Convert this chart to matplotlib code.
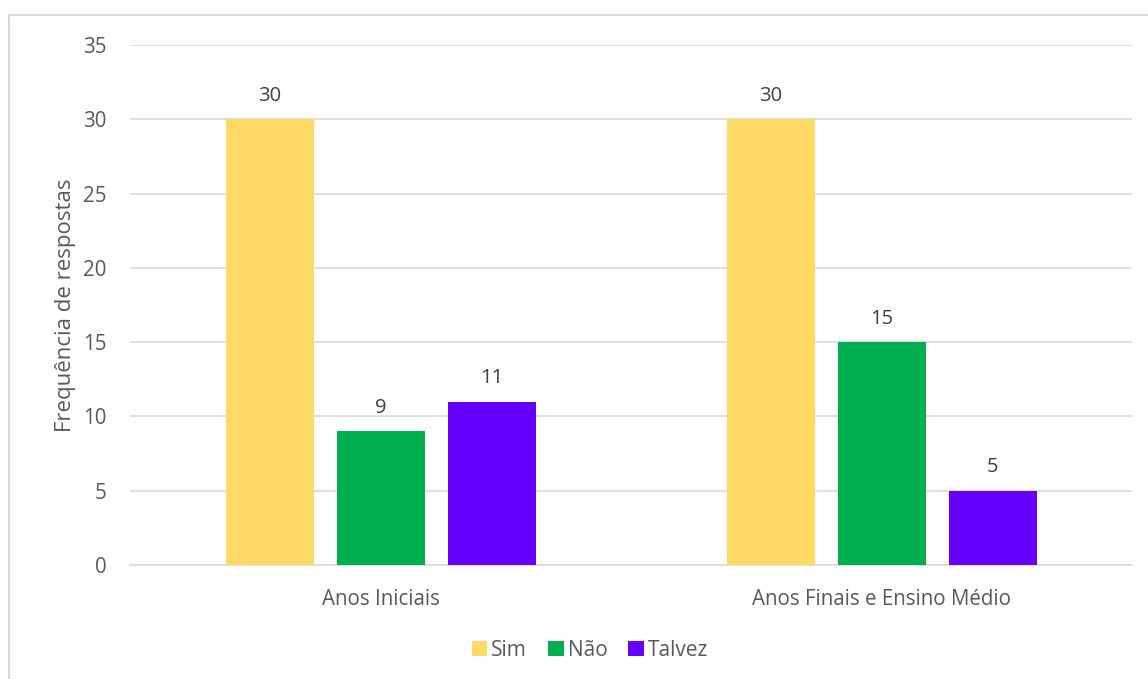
import matplotlib
matplotlib.use("Agg")
import matplotlib.pyplot as plt
import numpy as np
from matplotlib.patches import Rectangle

# Survey answers per school stage
categories = ["Anos Iniciais", "Anos Finais e Ensino Médio"]
series_names = ["Sim", "Não", "Talvez"]
sim = [30, 30]
nao = [9, 15]
talvez = [11, 5]
y_ticks = [0, 5, 10, 15, 20, 25, 30, 35]

colors = ["#FFD966", "#00B050", "#6600FF"]
text_color = "#595959"
grid_color = "#D9D9D9"

plt.rcParams["font.family"] = ["Open Sans", "DejaVu Sans"]

fig = plt.figure(figsize=(11.48, 6.79), dpi=100)
ax = fig.add_axes([130 / 1148, 1 - 565 / 679, (1132 - 130) / 1148, (565 - 45) / 679])

x = np.arange(len(categories))
width = 88 / 501
step = 111 / 501
for i, (name, values) in enumerate(zip(series_names, [sim, nao, talvez])):
    pos = x + (i - 1) * step
    bars = ax.bar(pos, values, width, color=colors[i], label=name, zorder=3)
    for b, v in zip(bars, values):
        ax.text(b.get_x() + b.get_width() / 2, v + 0.9, str(v),
                ha="center", va="bottom", fontsize=14.5, color="#404040")

ax.set_xlim(-0.5, 1.5)
ax.set_ylim(0, 35)
ax.set_yticks(y_ticks)
ax.set_xticks(x)
ax.set_xticklabels(categories)
ax.tick_params(axis="both", length=0, labelsize=14.8, colors=text_color)
ax.tick_params(axis="y", pad=17)
ax.tick_params(axis="x", pad=17)
ax.grid(axis="y", color=grid_color, linewidth=1.2, zorder=0)
for side in ["top", "right", "left"]:
    ax.spines[side].set_visible(False)
ax.spines["bottom"].set_color(grid_color)
ax.spines["bottom"].set_linewidth(1.2)

ax.set_ylabel("Frequência de respostas", fontsize=16, color=text_color, labelpad=5)

fig.legend(loc="center", bbox_to_anchor=(590 / 1148, 1 - 650 / 679), ncol=3,
           frameon=False, fontsize=15, handlelength=0.75, handleheight=0.75,
           handletextpad=0.2, columnspacing=1.0, labelcolor=text_color)

# Chart border
fig.patches.append(Rectangle((9 / 1148, -0.05), 1.2, 1 - 15 / 679 + 0.05,
                             transform=fig.transFigure, fill=False,
                             edgecolor=grid_color, linewidth=1.5))

fig.savefig("out.png", dpi=100)
